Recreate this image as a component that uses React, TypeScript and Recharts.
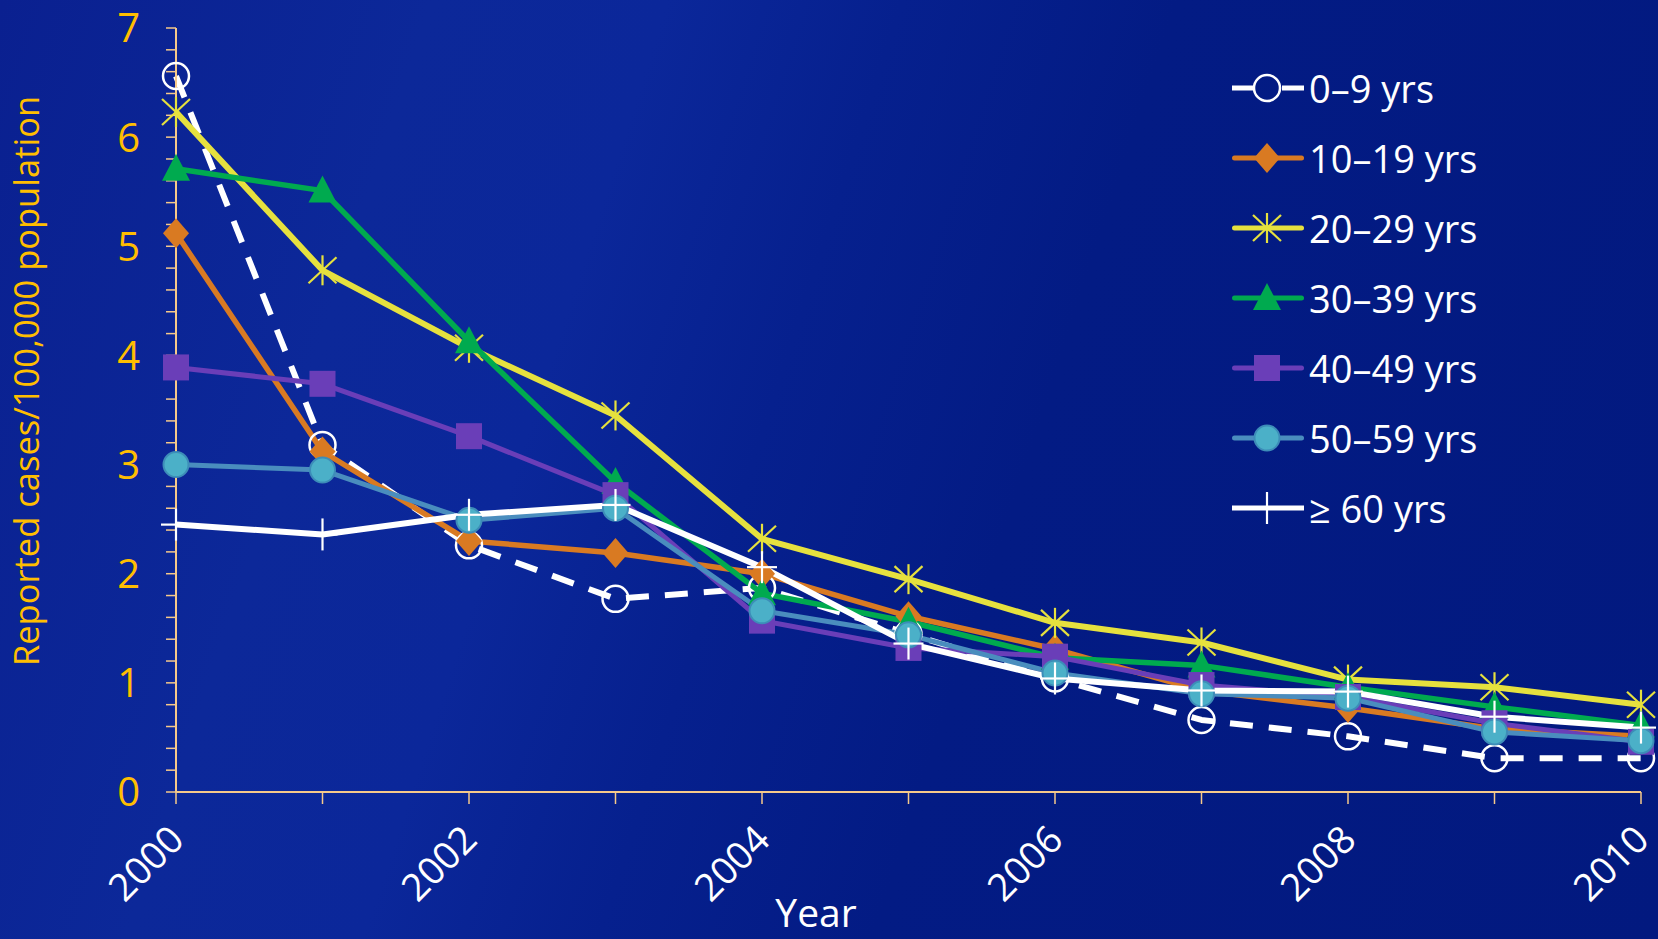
import React from 'react';
import { LineChart, Line, XAxis, YAxis, Legend } from 'recharts';

// ---- data ----
const years = [2000, 2001, 2002, 2003, 2004, 2005, 2006, 2007, 2008, 2009, 2010];
const age0to9 = [6.56, 3.18, 2.26, 1.77, 1.87, 1.45, 1.04, 0.66, 0.51, 0.31, 0.31];
const age10to19 = [5.12, 3.12, 2.3, 2.19, 2.0, 1.61, 1.31, 0.93, 0.77, 0.58, 0.51];
const age20to29 = [6.23, 4.78, 4.07, 3.45, 2.32, 1.95, 1.55, 1.37, 1.03, 0.96, 0.8];
const age30to39 = [5.71, 5.51, 4.13, 2.84, 1.82, 1.56, 1.23, 1.16, 0.96, 0.78, 0.61];
const age40to49 = [3.89, 3.74, 3.26, 2.72, 1.57, 1.32, 1.24, 0.98, 0.87, 0.63, 0.46];
const age50to59 = [3.0, 2.95, 2.49, 2.6, 1.66, 1.44, 1.09, 0.9, 0.86, 0.55, 0.47];
const age60plus = [2.45, 2.36, 2.54, 2.63, 2.06, 1.36, 1.04, 0.93, 0.92, 0.69, 0.59];

const seriesNames = ['0–9 yrs', '10–19 yrs', '20–29 yrs', '30–39 yrs', '40–49 yrs', '50–59 yrs', '≥ 60 yrs'];
const xTicks = [2000, 2001, 2002, 2003, 2004, 2005, 2006, 2007, 2008, 2009, 2010];
const yTicks = [
  0, 0.2, 0.4, 0.6, 0.8, 1, 1.2, 1.4, 1.6, 1.8, 2, 2.2, 2.4, 2.6, 2.8, 3, 3.2, 3.4, 3.6, 3.8,
  4, 4.2, 4.4, 4.6, 4.8, 5, 5.2, 5.4, 5.6, 5.8, 6, 6.2, 6.4, 6.6, 6.8, 7,
];
const xAxisTitle = 'Year';
const yAxisTitle = 'Reported cases/100,000 population';

const data = years.map((year, i) => ({
  year,
  a0: age0to9[i],
  a10: age10to19[i],
  a20: age20to29[i],
  a30: age30to39[i],
  a40: age40to49[i],
  a50: age50to59[i],
  a60: age60plus[i],
}));

// ---- styles ----
const FONT = '"Open Sans", "Noto Sans", sans-serif';
const AXIS_COLOR = '#F6C98A';
const GOLD = '#FFBE00';

type MP = { cx?: number; cy?: number };

const OpenCircle = ({ cx = 0, cy = 0 }: MP) => (
  <circle cx={cx} cy={cy} r={13} fill="none" stroke="#ffffff" strokeWidth={2.5} />
);
const Diamond = ({ cx = 0, cy = 0 }: MP) => (
  <polygon
    points={`${cx},${cy - 15} ${cx + 13},${cy} ${cx},${cy + 15} ${cx - 13},${cy}`}
    fill="#D97A22"
  />
);
const Asterisk = ({ cx = 0, cy = 0 }: MP) => (
  <g stroke="#E6E13E" strokeWidth={2.2}>
    <line x1={cx} y1={cy - 15} x2={cx} y2={cy + 15} />
    <line x1={cx - 14} y1={cy - 13} x2={cx + 14} y2={cy + 13} />
    <line x1={cx - 14} y1={cy + 13} x2={cx + 14} y2={cy - 13} />
  </g>
);
const Triangle = ({ cx = 0, cy = 0 }: MP) => (
  <polygon points={`${cx},${cy - 15} ${cx + 14},${cy + 12} ${cx - 14},${cy + 12}`} fill="#00AA4F" />
);
const Square = ({ cx = 0, cy = 0 }: MP) => (
  <rect x={cx - 13} y={cy - 13} width={26} height={26} fill="#6A3EB8" />
);
const TealCircle = ({ cx = 0, cy = 0 }: MP) => (
  <circle cx={cx} cy={cy} r={12.5} fill="#4BB0C8" stroke="#3D8DB8" strokeWidth={2} />
);
const Plus = ({ cx = 0, cy = 0 }: MP) => (
  <g stroke="#ffffff" strokeWidth={2.2}>
    <line x1={cx} y1={cy - 16} x2={cx} y2={cy + 16} />
    <line x1={cx - 15} y1={cy} x2={cx + 15} y2={cy} />
  </g>
);

const series = [
  { key: 'a0', name: seriesNames[0], color: '#ffffff', width: 6, dash: '23 16', legendDash: '22 28', cap: 'butt', Marker: OpenCircle },
  { key: 'a10', name: seriesNames[1], color: '#D97A22', width: 5.5, dash: undefined, legendDash: undefined, cap: 'round', Marker: Diamond },
  { key: 'a20', name: seriesNames[2], color: '#E6E13E', width: 6, dash: undefined, legendDash: undefined, cap: 'round', Marker: Asterisk },
  { key: 'a30', name: seriesNames[3], color: '#00AA4F', width: 5.5, dash: undefined, legendDash: undefined, cap: 'round', Marker: Triangle },
  { key: 'a40', name: seriesNames[4], color: '#6A3EB8', width: 5, dash: undefined, legendDash: undefined, cap: 'round', Marker: Square },
  { key: 'a50', name: seriesNames[5], color: '#4A8DBE', width: 5, dash: undefined, legendDash: undefined, cap: 'round', Marker: TealCircle },
  { key: 'a60', name: seriesNames[6], color: '#ffffff', width: 6, dash: undefined, legendDash: undefined, cap: 'butt', Marker: Plus },
];

const XTick = (props: any) => {
  const { x, y, payload } = props;
  const v = payload.value as number;
  if (v % 2 !== 0) return <g />;
  const tx = x + 10;
  const ty = y + 38;
  return (
    <text
      x={tx}
      y={ty}
      fill="#ffffff"
      fontSize={38}
      fontFamily={FONT}
      textAnchor="end"
      transform={`rotate(-45, ${tx}, ${ty})`}
    >
      {v}
    </text>
  );
};

const YTick = (props: any) => {
  const { x, y, payload } = props;
  const v = payload.value as number;
  if (!Number.isInteger(v)) return <g />;
  return (
    <text x={x} y={y} dy="0.36em" fill={GOLD} fontSize={40} fontFamily={FONT} textAnchor="end">
      {v}
    </text>
  );
};

const renderLegend = () => (
  <div style={{ fontFamily: FONT, color: '#ffffff', fontSize: 38 }}>
    {series.map((s) => (
      <div key={s.key} style={{ display: 'flex', alignItems: 'center', height: 70 }}>
        <svg width={72} height={40} style={{ display: 'block', overflow: 'visible' }}>
          <line
            x1={s.cap === 'round' ? 2.5 : 0}
            y1={20}
            x2={s.cap === 'round' ? 69.5 : 72}
            y2={20}
            stroke={s.color}
            strokeWidth={5}
            strokeLinecap={s.cap as any}
            strokeDasharray={s.legendDash}
          />
          <s.Marker cx={35} cy={20} />
        </svg>
        <span style={{ marginLeft: 5, lineHeight: '70px', whiteSpace: 'nowrap' }}>{s.name}</span>
      </div>
    ))}
  </div>
);

export default function App() {
  return (
    <div
      style={{
        position: 'absolute',
        left: 0,
        top: 0,
        width: 1658,
        height: 939,
        overflow: 'hidden',
        background:
          'linear-gradient(108deg, #0a2090 0%, #0c2899 22%, #0b279a 34%, #06208e 46%, #031b84 60%, #02197f 100%)',
      }}
    >
      <LineChart width={1658} height={939} data={data} margin={{ top: 28, right: 17, left: 0, bottom: 0 }}>
        <XAxis
          dataKey="year"
          type="number"
          domain={[2000, 2010]}
          ticks={xTicks}
          interval={0}
          height={147}
          tick={<XTick />}
          tickSize={12}
          tickMargin={0}
          axisLine={{ stroke: AXIS_COLOR, strokeWidth: 2 }}
          tickLine={{ stroke: AXIS_COLOR, strokeWidth: 1.5 }}
          label={(props: any) => {
            const vb = props.viewBox || { x: 176, y: 792 };
            return (
              <text x={vb.x + 640} y={vb.y + 135} fill="#ffffff" fontSize={39} fontFamily={FONT} textAnchor="middle">
                {xAxisTitle}
              </text>
            );
          }}
        />
        <YAxis
          type="number"
          domain={[0, 7]}
          ticks={yTicks}
          interval={0}
          width={176}
          tick={<YTick />}
          tickSize={10}
          tickMargin={26}
          axisLine={{ stroke: AXIS_COLOR, strokeWidth: 2 }}
          tickLine={{ stroke: AXIS_COLOR, strokeWidth: 1.5 }}
          label={(props: any) => {
            const vb = props.viewBox || { x: 0, y: 28 };
            const lx = vb.x + 39;
            const ly = vb.y + 353;
            return (
              <text
                x={lx}
                y={ly}
                fill={GOLD}
                fontSize={34.5}
                fontFamily={FONT}
                textAnchor="middle"
                transform={`rotate(-90, ${lx}, ${ly})`}
              >
                {yAxisTitle}
              </text>
            );
          }}
        />
        <Legend
          layout="vertical"
          align="center"
          verticalAlign="middle"
          content={renderLegend}
          wrapperStyle={{ left: 1232, top: 53, width: 420, height: 490 }}
        />
        {series.map((s) => (
          <Line
            key={s.key}
            dataKey={s.key}
            name={s.name}
            type="linear"
            stroke={s.color}
            strokeWidth={s.width}
            strokeDasharray={s.dash}
            strokeLinejoin="round"
            isAnimationActive={false}
            activeDot={false}
            dot={(p: any) => (
              <g key={`${s.key}-${p.index}`}>
                <s.Marker cx={p.cx} cy={p.cy} />
              </g>
            )}
          />
        ))}
      </LineChart>
    </div>
  );
}
